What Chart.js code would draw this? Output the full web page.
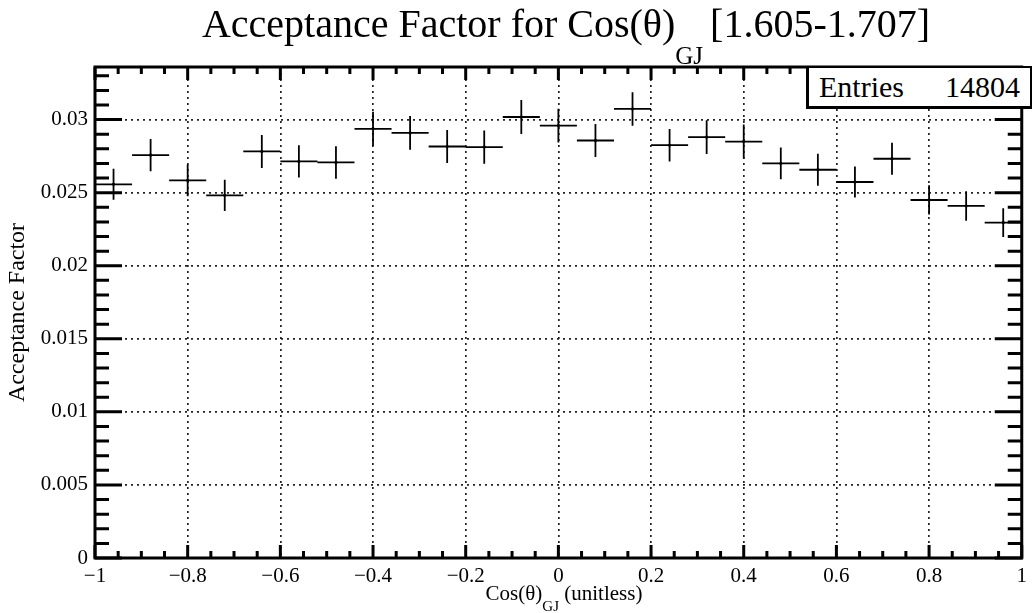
<!DOCTYPE html>
<html>
<head>
<meta charset="utf-8">
<script src="https://cdn.jsdelivr.net/npm/chart.js@4.4.1/dist/chart.umd.min.js"></script>
<style>
html, body { margin: 0; padding: 0; background: #fff; }
#wrap { position: relative; width: 1033px; height: 613px; overflow: hidden;
        font-family: "Liberation Serif", "Times New Roman", serif; color: #000; }
#wrap canvas { position: absolute; left: 0; top: 0; }
.txt { position: absolute; white-space: nowrap; }
#title { left: 566px; top: 4px; transform: translateX(-50%); font-size: 40px; line-height: 40px; }
#title sub, #xtitle sub { vertical-align: baseline; position: relative; }
#title sub { font-size: 25px; top: 27px; margin-right: -3px; }
#xtitle { left: 564px; top: 583px; transform: translateX(-50%); font-size: 21px; line-height: 21px; }
#xtitle sub { font-size: 15px; top: 11px; }
#stats { position: absolute; left: 806px; top: 66px; width: 226px; height: 43px; box-sizing: border-box;
         background: #fff; border: 2px solid #000; border-left-width: 3px; border-bottom-width: 3px; }
#stats span { position: absolute; top: 4px; font-size: 30px; line-height: 30px; }
</style>
</head>
<body>
<div id="wrap">
  <canvas id="myChart" width="1033" height="613"></canvas>
  <div class="txt" id="title">Acceptance Factor for Cos(θ)<sub>GJ</sub> [1.605-1.707]</div>
  <div class="txt" id="xtitle">Cos(θ)<sub>GJ</sub> (unitless)</div>
  <div id="stats"><span style="left:10px">Entries</span><span style="right:10px">14804</span></div>
</div>
<script>
// bin centres of the Cos(theta)_GJ histogram (25 bins, -1..1)
const binCenters = [-0.96, -0.88, -0.80, -0.72, -0.64, -0.56, -0.48, -0.40, -0.32, -0.24, -0.16, -0.08, 0.00,
                    0.08, 0.16, 0.24, 0.32, 0.40, 0.48, 0.56, 0.64, 0.72, 0.80, 0.88, 0.96];
const binHalfWidth = 0.04;
const acceptance = [0.02557, 0.02757, 0.02584, 0.02482, 0.02782, 0.02714, 0.02707, 0.02937, 0.02909, 0.02816,
                    0.02812, 0.03018, 0.02959, 0.02857, 0.03073, 0.02825, 0.02880, 0.02850, 0.02700, 0.02657,
                    0.02573, 0.02732, 0.02450, 0.02409, 0.02295];
const acceptanceErr = [0.00106, 0.00110, 0.00108, 0.00107, 0.00113, 0.00110, 0.00111, 0.00116, 0.00116, 0.00113,
                       0.00114, 0.00116, 0.00115, 0.00113, 0.00115, 0.00111, 0.00116, 0.00117, 0.00109, 0.00110,
                       0.00106, 0.00110, 0.00100, 0.00101, 0.00098];
const xTicks = [-1, -0.8, -0.6, -0.4, -0.2, 0, 0.2, 0.4, 0.6, 0.8, 1];
const yTicks = [0, 0.005, 0.01, 0.015, 0.02, 0.025, 0.03];
const yMax = 0.0336;

const serif = "'Liberation Serif', 'Times New Roman', serif";

// error bars as broken line segments (null y breaks the line)
const hBars = [], vBars = [], markers = [];
binCenters.forEach((c, i) => {
    const v = acceptance[i], e = acceptanceErr[i];
    hBars.push({x: c - binHalfWidth, y: v}, {x: c + binHalfWidth, y: v}, {x: c, y: null});
    vBars.push({x: c, y: v - e}, {x: c, y: v + e}, {x: c, y: null});
    markers.push({x: c, y: v});
});

// ROOT style frame with inward ticks on all four sides
const frameTicks = {
    id: 'frameTicks',
    afterDatasetsDraw(chart) {
        const {ctx, chartArea: a, scales: {x, y}} = chart;
        ctx.save();
        ctx.strokeStyle = '#000';
        ctx.lineWidth = 3;
        ctx.beginPath();
        for (let k = 0; k <= 40; k++) {
            const px = x.getPixelForValue(-1 + k * 0.05);
            const len = k % 4 === 0 ? 13 : 7;
            ctx.moveTo(px, a.bottom); ctx.lineTo(px, a.bottom - len);
            ctx.moveTo(px, a.top); ctx.lineTo(px, a.top + len);
        }
        for (let k = 0; k <= 33; k++) {
            const py = y.getPixelForValue(k * 0.001);
            const len = k % 5 === 0 ? 27 : 14;
            ctx.moveTo(a.left, py); ctx.lineTo(a.left + len, py);
            ctx.moveTo(a.right, py); ctx.lineTo(a.right - len, py);
        }
        ctx.stroke();
        ctx.strokeRect(a.left, a.top, a.right - a.left, a.bottom - a.top);
        ctx.restore();
    }
};

const fmt = v => String(+v.toFixed(4)).replace('-', '\u2212');

new Chart(document.getElementById('myChart'), {
    type: 'scatter',
    data: {
        datasets: [
            {data: hBars, showLine: true, spanGaps: false, borderColor: '#000', borderWidth: 1.8, pointRadius: 0},
            {data: vBars, showLine: true, spanGaps: false, borderColor: '#000', borderWidth: 1.8, pointRadius: 0},
            {data: markers, pointStyle: 'rect', pointRadius: 1.8, backgroundColor: '#000', borderWidth: 0}
        ]
    },
    options: {
        responsive: false,
        animation: false,
        events: [],
        layout: {autoPadding: false, padding: {top: 67, right: 1, left: 0, bottom: 0}},
        plugins: {legend: {display: false}, tooltip: {enabled: false}, title: {display: false}},
        scales: {
            x: {
                type: 'linear', min: -1, max: 1,
                afterBuildTicks: s => { s.ticks = xTicks.map(v => ({value: v})); },
                afterFit: s => { s.height = 55; },
                grid: {color: '#222', lineWidth: 1.7, drawTicks: false},
                border: {display: false, dash: [2, 4]},
                ticks: {color: '#000', padding: 6, maxRotation: 0, autoSkip: false,
                        font: {family: serif, size: 21}, callback: v => fmt(v)}
            },
            y: {
                type: 'linear', min: 0, max: yMax,
                afterBuildTicks: s => { s.ticks = yTicks.map(v => ({value: v})); },
                afterFit: s => { s.width = 95; },
                grid: {color: '#222', lineWidth: 1.7, drawTicks: false},
                border: {display: false, dash: [2, 4]},
                ticks: {color: '#000', padding: 7, font: {family: serif, size: 21}, callback: v => fmt(v)},
                title: {display: true, text: 'Acceptance Factor', color: '#000',
                        font: {family: serif, size: 24}, padding: {top: 3, bottom: 0}}
            }
        }
    },
    plugins: [frameTicks]
});
</script>
</body>
</html>
